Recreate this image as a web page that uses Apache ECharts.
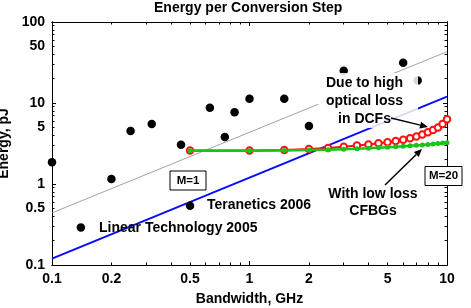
<!DOCTYPE html>
<html><head><meta charset="utf-8">
<script src="https://cdn.jsdelivr.net/npm/echarts@6/dist/echarts.min.js"></script>
<style>html,body{margin:0;padding:0;background:#fff}#c{width:471px;height:308px}</style>
</head><body><div id="c"></div>
<script>
const chartTitle = 'Energy per Conversion Step';
const xName = 'Bandwidth, GHz';
const yName = 'Energy, pJ';
const xTickLabels = [0.1, 0.2, 0.5, 1, 2, 5, 10];
const yTickLabels = [0.1, 0.5, 1, 5, 10, 50, 100];

// published converters (black dots)
const dotBandwidth = [0.1, 0.14, 0.2, 0.25, 0.32, 0.45, 0.5, 0.63, 0.75, 0.84, 1.0, 1.5, 2.0, 3.0, 6.0, 7.1];
const dotEnergy    = [1.85, 0.29, 1.15, 4.5, 5.5, 3.05, 0.54, 8.75, 3.8, 7.7, 11.3, 11.3, 5.2, 25, 31.5, 19];

// thin gray trend line
const trendBandwidth = [0.1, 10];
const trendEnergy = [0.44, 43];
// blue line
const blueBandwidth = [0.1, 10];
const blueEnergy = [0.12, 12];

// M = 1 .. 20 steps
const stepBandwidth = [0.5, 1, 1.5, 2, 2.5, 3, 3.5, 4, 4.5, 5, 5.5, 6, 6.5, 7, 7.5, 8, 8.5, 9, 9.5, 10];
const dcfEnergy  = [2.6, 2.6, 2.62, 2.7, 2.78, 2.88, 2.98, 3.08, 3.18, 3.28, 3.4, 3.52, 3.68, 3.86, 4.08, 4.35, 4.65, 5.0, 5.5, 6.3];
const cfbgEnergy = [2.58, 2.58, 2.6, 2.62, 2.65, 2.68, 2.72, 2.76, 2.8, 2.84, 2.88, 2.92, 2.96, 3.0, 3.04, 3.08, 3.12, 3.16, 3.2, 3.24];

const FONT = '"Liberation Sans", Arial, sans-serif';
const zip = (a, b) => a.map((v, i) => [v, b[i]]);

function decadeTicks(lo, hi) {
  const minor = [], major = [];
  for (let e = lo; e <= hi; e++) {
    const p = Math.pow(10, e);
    major.push(p);
    if (e < hi) for (let m = 2; m <= 9; m++) minor.push(+(m * p).toPrecision(3));
  }
  return { minor, major };
}
const xt = decadeTicks(-1, 1);
const yt = decadeTicks(-1, 2);

function axis(kind, position, ticks, len, withLabels, min, max, extra) {
  const a = {
    type: 'log', logBase: 10, min, max, position,
    axisLine: { show: true, onZero: false, lineStyle: { color: '#000', width: 1 } },
    axisTick: { show: true, inside: true, length: len, customValues: ticks, lineStyle: { color: '#000', width: 1 } },
    splitLine: { show: false },
    axisLabel: { show: false }
  };
  if (withLabels) {
    a.axisLabel = {
      show: true, customValues: withLabels, margin: 7,
      color: '#000', fontFamily: FONT, fontWeight: 'bold', fontSize: 14,
      formatter: v => String(+(+v).toPrecision(3))
    };
  }
  return Object.assign(a, extra || {});
}

const chart = echarts.init(document.getElementById('c'), null, { renderer: 'canvas' });

function arrow(x1, y1, x2, y2) {
  const ang = Math.atan2(y2 - y1, x2 - x1), L = 8, W = 3.5;
  const bx = x2 - L * Math.cos(ang), by = y2 - L * Math.sin(ang);
  const nx = -Math.sin(ang) * W, ny = Math.cos(ang) * W;
  return [
    { type: 'line', z: 100, shape: { x1, y1, x2: bx, y2: by }, style: { stroke: '#000', lineWidth: 1.5 } },
    { type: 'polygon', z: 100, shape: { points: [[x2, y2], [bx + nx, by + ny], [bx - nx, by - ny]] }, style: { fill: '#000' } }
  ];
}
function boxLabel(cx, cy, w, h, txt) {
  return [
    { type: 'rect', z: 100, shape: { x: cx - w / 2, y: cy - h / 2, width: w, height: h }, style: { fill: '#fff', stroke: '#000', lineWidth: 1 } },
    { type: 'text', z: 101, x: cx, y: cy, style: { text: txt, fill: '#000', font: 'bold 11.5px ' + FONT, textAlign: 'center', textVerticalAlign: 'middle' } }
  ];
}
const textStyle = (s) => Object.assign({ fill: '#000', font: 'bold 14px ' + FONT }, s);

chart.setOption({
  animation: false,
  backgroundColor: '#fff',
  title: {
    text: chartTitle, left: 154, top: 1, padding: 0,
    textStyle: { fontFamily: FONT, fontWeight: 'bold', fontSize: 14, color: '#000' }
  },
  grid: { left: 52, right: 24, top: 22, bottom: 43, containLabel: false, outerBoundsMode: 'none' },
  xAxis: [
    axis('x', 'bottom', xt.minor, 2.5, xTickLabels, 0.1, 10, {
      name: xName, nameLocation: 'middle', nameGap: 27,
      nameTextStyle: { fontFamily: FONT, fontWeight: 'bold', fontSize: 14, color: '#000' }
    }),
    axis('x', 'bottom', xt.major, 4, null, 0.1, 10),
    axis('x', 'top', xt.minor, 2.5, null, 0.1, 10),
    axis('x', 'top', xt.major, 4, null, 0.1, 10)
  ],
  yAxis: [
    axis('y', 'left', yt.minor, 2.5, yTickLabels, 0.1, 100, {
      name: yName, nameLocation: 'middle', nameGap: 39, nameRotate: 90,
      nameTextStyle: { fontFamily: FONT, fontWeight: 'bold', fontSize: 14, color: '#000' }
    }),
    axis('y', 'left', yt.major, 4, null, 0.1, 100),
    axis('y', 'right', yt.minor, 2.5, null, 0.1, 100),
    axis('y', 'right', yt.major, 4, null, 0.1, 100)
  ],
  series: [
    { type: 'line', data: zip(trendBandwidth, trendEnergy), showSymbol: false, symbol: 'none',
      lineStyle: { color: '#8a8a8a', width: 0.8 }, z: 1 },
    { type: 'line', data: zip(blueBandwidth, blueEnergy), showSymbol: false, symbol: 'none',
      lineStyle: { color: '#0a0aff', width: 2 }, z: 2 },
    { type: 'scatter', data: zip(dotBandwidth, dotEnergy), symbol: 'circle', symbolSize: 8.5,
      itemStyle: { color: '#000', opacity: 1 }, z: 3 },
    { type: 'line', data: zip(stepBandwidth, dcfEnergy), symbol: 'emptyCircle', symbolSize: 6.5,
      lineStyle: { color: '#ff1010', width: 2 },
      itemStyle: { color: '#ff1010', borderColor: '#ff1010', borderWidth: 1.3 }, z: 4 },
    { type: 'line', data: zip(stepBandwidth, cfbgEnergy), symbol: 'circle', symbolSize: 5,
      lineStyle: { color: '#18c418', width: 2.5 },
      itemStyle: { color: '#18c418' }, z: 5 }
  ],
  graphic: [
    { type: 'rect', z: 99, shape: { x: 318, y: 73, width: 100, height: 55 }, style: { fill: 'rgba(255,255,255,0.85)' } },
    { type: 'text', z: 100, x: 364.5, y: 74.5, style: textStyle({ text: 'Due to high\noptical loss\nin DCFs', textAlign: 'center', textVerticalAlign: 'top', lineHeight: 17.8 }) },
    { type: 'text', z: 100, x: 373, y: 185.5, style: textStyle({ text: 'With low loss\nCFBGs', textAlign: 'center', textVerticalAlign: 'top', lineHeight: 17 }) },
    { type: 'text', z: 100, x: 207, y: 205, style: textStyle({ text: 'Teranetics 2006', textAlign: 'left', textVerticalAlign: 'middle' }) },
    { type: 'text', z: 100, x: 99, y: 228, style: textStyle({ text: 'Linear Technology 2005', textAlign: 'left', textVerticalAlign: 'middle' }) },
    ...arrow(391, 118, 428, 127),
    ...arrow(385, 185, 422, 149),
    ...boxLabel(188, 180.5, 36, 19, 'M=1'),
    ...boxLabel(443.5, 176, 37, 19, 'M=20')
  ]
});
</script>
</body></html>
